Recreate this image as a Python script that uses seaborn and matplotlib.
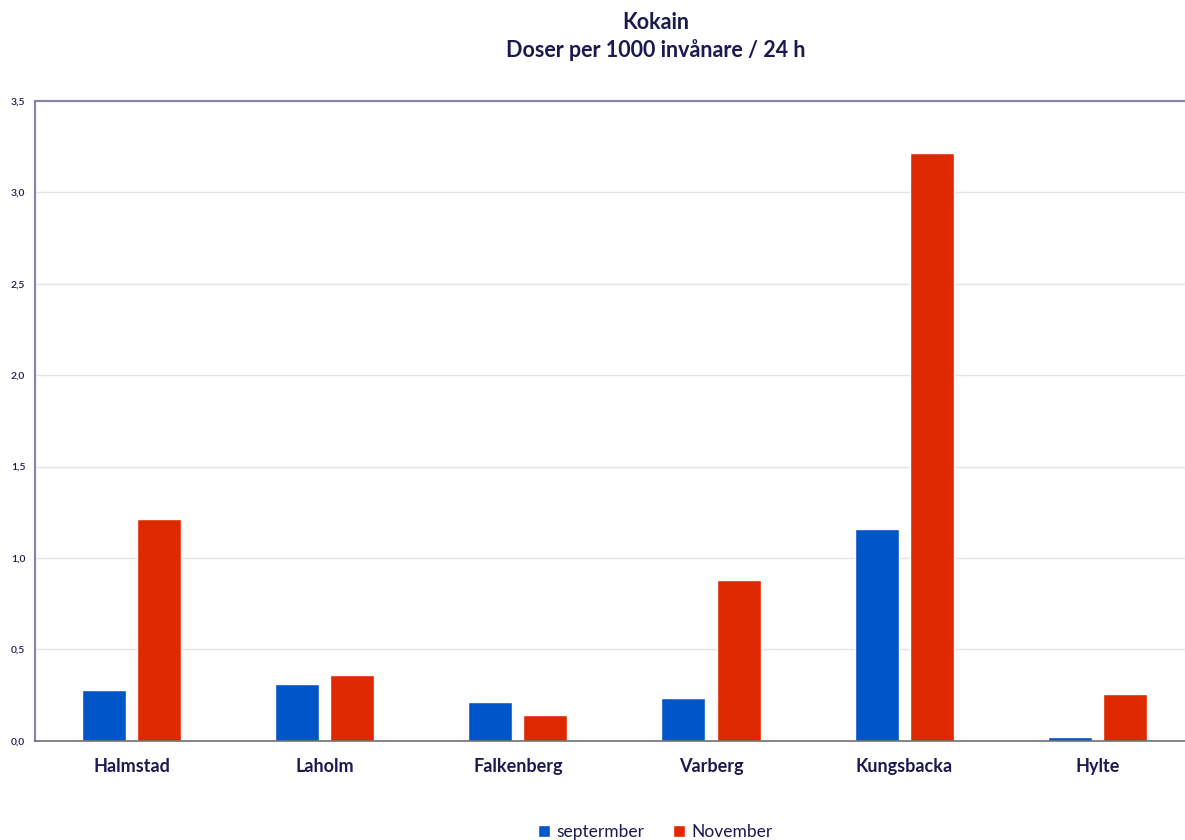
import pandas as pd
import seaborn as sns
import matplotlib.pyplot as plt
from matplotlib.ticker import FuncFormatter

kommuner = ['Halmstad', 'Laholm', 'Falkenberg', 'Varberg', 'Kungsbacka', 'Hylte']
september = [0.28, 0.31, 0.21, 0.235, 1.16, 0.02]
november = [1.215, 0.36, 0.14, 0.88, 3.215, 0.257]
manader = ['septermber', 'November']

rows = []
for k, s, n in zip(kommuner, september, november):
    rows.append({'kommun': k, 'manad': manader[0], 'doser': s})
    rows.append({'kommun': k, 'manad': manader[1], 'doser': n})
df = pd.DataFrame(rows)

sns.set_style("white")
plt.rcParams['font.family'] = ['Lato', 'DejaVu Sans']

navy = '#1c1850'
fig = plt.figure(figsize=(11.85, 8.4), dpi=100)
ax = fig.add_axes([0.0295, 0.118, 0.978, 0.762])

sns.barplot(data=df, x='kommun', y='doser', hue='manad', hue_order=manader,
            palette=['#0055c8', '#e02800'], width=0.57, gap=0.2,
            saturation=1, ax=ax)

ax.set_ylim(0, 3.5)
ax.set_xlim(-0.5, 5.5)
ax.set_yticks([0, 0.5, 1.0, 1.5, 2.0, 2.5, 3.0, 3.5])
ax.yaxis.set_major_formatter(FuncFormatter(lambda v, p: f'{v:.1f}'.replace('.', ',')))
ax.grid(axis='y', color='#e3e3e8', lw=1.0)
ax.set_axisbelow(True)
ax.tick_params(axis='y', labelsize=7.5, colors=navy, length=0, pad=7)
ax.tick_params(axis='x', labelsize=13, colors=navy, length=0, pad=12)
for lab in ax.get_xticklabels():
    lab.set_fontweight('bold')
for lab in ax.get_yticklabels():
    lab.set_fontweight('semibold')
ax.set_xlabel('')
ax.set_ylabel('')

for s in ['left', 'top']:
    ax.spines[s].set_color('#8a7faa')
    ax.spines[s].set_linewidth(1.5)
ax.spines['bottom'].set_color('#6f6f6f')
ax.spines['bottom'].set_linewidth(1.2)
ax.spines['right'].set_visible(False)

handles, labels = ax.get_legend_handles_labels()
ax.legend_.remove()
leg = fig.legend(handles, labels, loc='center', bbox_to_anchor=(0.553, 0.009), ncol=2,
                 frameon=False, fontsize=12.5, handlelength=0.7, handleheight=0.7,
                 handletextpad=0.4, columnspacing=1.6)
for t in leg.get_texts():
    t.set_color(navy)

fig.text(0.553, 0.973, 'Kokain', ha='center', va='center', fontsize=15.5,
         fontweight='bold', color=navy)
fig.text(0.553, 0.94, 'Doser per 1000 invånare / 24 h', ha='center', va='center',
         fontsize=15.5, fontweight='bold', color=navy)

plt.savefig('out.png', dpi=100)
